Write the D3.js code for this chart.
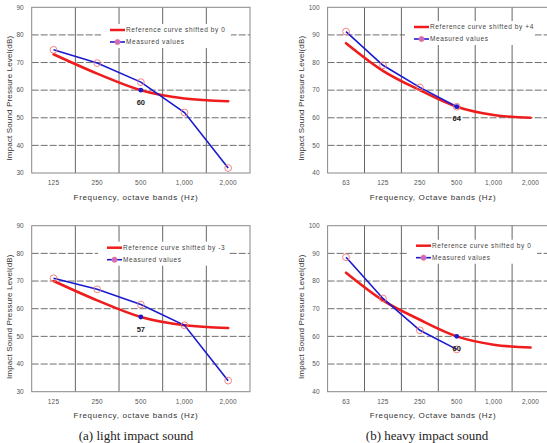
<!DOCTYPE html>
<html>
<head>
<meta charset="utf-8">
<script src="https://cdn.jsdelivr.net/npm/d3@7"></script>
<style>
  html, body { margin: 0; padding: 0; background: #fff; }
  svg { display: block; }
</style>
</head>
<body>
<svg id="chart" width="547" height="443"></svg>
<script>
// ---------- data ----------
const lightBands = ["125", "250", "500", "1,000", "2,000"];
const heavyBands = ["63", "125", "250", "500", "1,000", "2,000"];

const lightYTicks = [30, 40, 50, 60, 70, 80, 90];
const heavyYTicks = [40, 50, 60, 70, 80, 90, 100];

// (a) top: light impact, shifted by 0
const lightTopRef = [73, 66, 60, 57, 56];
const lightTopMeasured = [74.6, 69.8, 62.9, 51.9, 31.8];
const lightTopRating = 60;
const lightTopLegend = "Reference curve shifted by 0";

// (a) bottom: light impact, shifted by -3
const lightBotRef = [70, 63, 57, 54, 53];
const lightBotMeasured = [71, 67, 61.5, 54, 34];
const lightBotRating = 57;
const lightBotLegend = "Reference curve shifted by -3";

// (b) top: heavy impact, shifted by +4
const heavyTopRef = [87, 77, 70, 64, 61, 60];
const heavyTopMeasured = [91.2, 79, 71, 64];
const heavyTopRating = 64;
const heavyTopLegend = "Reference curve shifted by +4";

// (b) bottom: heavy impact, shifted by 0
const heavyBotRef = [83, 73, 66, 60, 57, 56];
const heavyBotMeasured = [88.6, 73.7, 62.2, 55.3];
const heavyBotRating = 60;
const heavyBotLegend = "Reference curve shifted by 0";

const ratingBand = "500";
const xTitleLight = "Frequency, octave bands (Hz)";
const xTitleHeavy = "Frequency, Octave bands (Hz)";
const yTitle = "Impact Sound Pressure Level(dB)";
const captions = ["(a) light impact sound", "(b) heavy impact sound"];

// ---------- drawing ----------
const svg = d3.select("#chart");
const RED = "#ee1c1c";
const BLUE = "#1a1ad0";
const PINK = "#f07878";
const SANS = "Liberation Sans, Arial, sans-serif";

function panel(o) {
  const g = svg.append("g");
  const x = d3.scaleBand().domain(o.bands).range([o.left, o.right]).paddingInner(0).paddingOuter(0);
  const y = d3.scaleLinear().domain([o.ticks[0], o.ticks[o.ticks.length - 1]]).range([o.bottom, o.top]);
  const cx = c => x(c) + x.bandwidth() / 2;

  // horizontal dashed grid
  g.selectAll(".hg").data(o.ticks.slice(1, -1)).enter().append("line")
    .attr("x1", o.left).attr("x2", o.right)
    .attr("y1", d => y(d)).attr("y2", d => y(d))
    .attr("stroke", "#6f6f6f").attr("stroke-width", 1).attr("stroke-dasharray", "7,2");
  // vertical solid grid at band boundaries
  g.selectAll(".vg").data(o.bands.slice(1)).enter().append("line")
    .attr("x1", d => x(d)).attr("x2", d => x(d))
    .attr("y1", o.top).attr("y2", o.bottom)
    .attr("stroke", "#666").attr("stroke-width", 1);
  // frame
  g.append("rect").attr("x", o.left).attr("y", o.top)
    .attr("width", o.right - o.left).attr("height", o.bottom - o.top)
    .attr("fill", "none").attr("stroke", "#888").attr("stroke-width", 1);

  // y tick labels
  g.selectAll(".yt").data(o.ticks).enter().append("text")
    .attr("x", o.left - 8).attr("y", d => y(d) + 2.2)
    .attr("text-anchor", "end").attr("font-family", SANS)
    .attr("font-size", 6.5).attr("fill", "#555").text(d => d);
  // x tick labels
  g.selectAll(".xt").data(o.bands).enter().append("text")
    .attr("x", d => cx(d)).attr("y", o.bottom + 12)
    .attr("text-anchor", "middle").attr("font-family", SANS)
    .attr("font-size", 6.5).attr("letter-spacing", 0.2).attr("fill", "#555").text(d => d);

  // axis titles
  g.append("text").attr("x", o.xTitleX).attr("y", o.bottom + 26.5)
    .attr("text-anchor", "middle").attr("font-family", SANS)
    .attr("font-size", 8).attr("letter-spacing", 0.65).attr("fill", "#333").text(o.xTitle);
  g.append("text")
    .attr("transform", `translate(${o.yTitleX},${(o.top + o.bottom) / 2 + 8}) rotate(-90)`)
    .attr("text-anchor", "middle").attr("font-family", SANS)
    .attr("font-size", 8).attr("letter-spacing", 0.15).attr("fill", "#333").text(yTitle);

  // legend (white box hides grid)
  const lx = o.legendX, ly = o.legendY;
  const lg = g.append("g");
  lg.append("rect").attr("x", lx - 9).attr("y", ly - 6)
    .attr("width", 130).attr("height", 24).attr("fill", "#fff");
  lg.append("line").attr("x1", lx).attr("x2", lx + 15).attr("y1", ly).attr("y2", ly)
    .attr("stroke", RED).attr("stroke-width", 2.5);
  lg.append("line").attr("x1", lx).attr("x2", lx + 15).attr("y1", ly + 12).attr("y2", ly + 12)
    .attr("stroke", BLUE).attr("stroke-width", 1.6);
  lg.append("circle").attr("cx", lx + 7.5).attr("cy", ly + 12).attr("r", 2.6)
    .attr("fill", "#c86ad0").attr("stroke", PINK).attr("stroke-width", 0.8);
  lg.append("text").attr("x", lx + 16).attr("y", ly + 2.2)
    .attr("font-family", SANS).attr("font-size", 6.5).attr("letter-spacing", 0.6)
    .attr("fill", "#444").text(o.legend);
  lg.append("text").attr("x", lx + 16).attr("y", ly + 14.2)
    .attr("font-family", SANS).attr("font-size", 6.5).attr("letter-spacing", 0.6)
    .attr("fill", "#444").text("Measured values");

  // reference curve
  const refPts = o.ref.map((v, i) => [cx(o.bands[i]), y(v)]);
  g.append("path").attr("d", d3.line().curve(d3.curveMonotoneX)(refPts))
    .attr("fill", "none").attr("stroke", RED).attr("stroke-width", 2.6)
    .attr("stroke-linejoin", "round").attr("stroke-linecap", "round");

  // measured
  const mPts = o.measured.map((v, i) => [cx(o.bands[i]), y(v)]);
  g.append("path").attr("d", d3.line()(mPts))
    .attr("fill", "none").attr("stroke", BLUE).attr("stroke-width", 1.6);
  g.selectAll(".mk").data(mPts).enter().append("circle")
    .attr("cx", d => d[0]).attr("cy", d => d[1]).attr("r", 3.4)
    .attr("fill", "none").attr("stroke", PINK).attr("stroke-width", 0.9);

  // rating point and label
  g.append("circle").attr("cx", cx(ratingBand)).attr("cy", y(o.rating)).attr("r", 2.4)
    .attr("fill", BLUE);
  g.append("text").attr("x", cx(ratingBand)).attr("y", y(o.rating) + 14.5)
    .attr("text-anchor", "middle").attr("font-family", SANS)
    .attr("font-size", 7.5).attr("font-weight", "bold").attr("fill", "#222").text(o.rating);
}

const L = { left: 31.7, right: 250 };
const R = { left: 327.6, right: 549 };
const T = { top: 7.3, bottom: 173 };
const B = { top: 225.7, bottom: 391.7 };

panel({ ...L, ...T, bands: lightBands, ticks: lightYTicks, ref: lightTopRef, measured: lightTopMeasured,
  rating: lightTopRating, legend: lightTopLegend, legendX: 110, legendY: 30,
  xTitle: xTitleLight, xTitleX: 136, yTitleX: 12 });
panel({ ...R, ...T, bands: heavyBands, ticks: heavyYTicks, ref: heavyTopRef, measured: heavyTopMeasured,
  rating: heavyTopRating, legend: heavyTopLegend, legendX: 414, legendY: 27,
  xTitle: xTitleHeavy, xTitleX: 433, yTitleX: 304 });
panel({ ...L, ...B, bands: lightBands, ticks: lightYTicks, ref: lightBotRef, measured: lightBotMeasured,
  rating: lightBotRating, legend: lightBotLegend, legendX: 107, legendY: 247.7,
  xTitle: xTitleLight, xTitleX: 136, yTitleX: 12 });
panel({ ...R, ...B, bands: heavyBands, ticks: heavyYTicks, ref: heavyBotRef, measured: heavyBotMeasured,
  rating: heavyBotRating, legend: heavyBotLegend, legendX: 416, legendY: 245.7,
  xTitle: xTitleHeavy, xTitleX: 433, yTitleX: 304 });

// captions
svg.append("text").attr("x", 136).attr("y", 440).attr("text-anchor", "middle")
  .attr("font-family", "Liberation Serif, Times New Roman, serif").attr("font-size", 13)
  .attr("fill", "#222").text(captions[0]);
svg.append("text").attr("x", 427).attr("y", 440).attr("text-anchor", "middle")
  .attr("font-family", "Liberation Serif, Times New Roman, serif").attr("font-size", 13)
  .attr("fill", "#222").text(captions[1]);
</script>
</body>
</html>
